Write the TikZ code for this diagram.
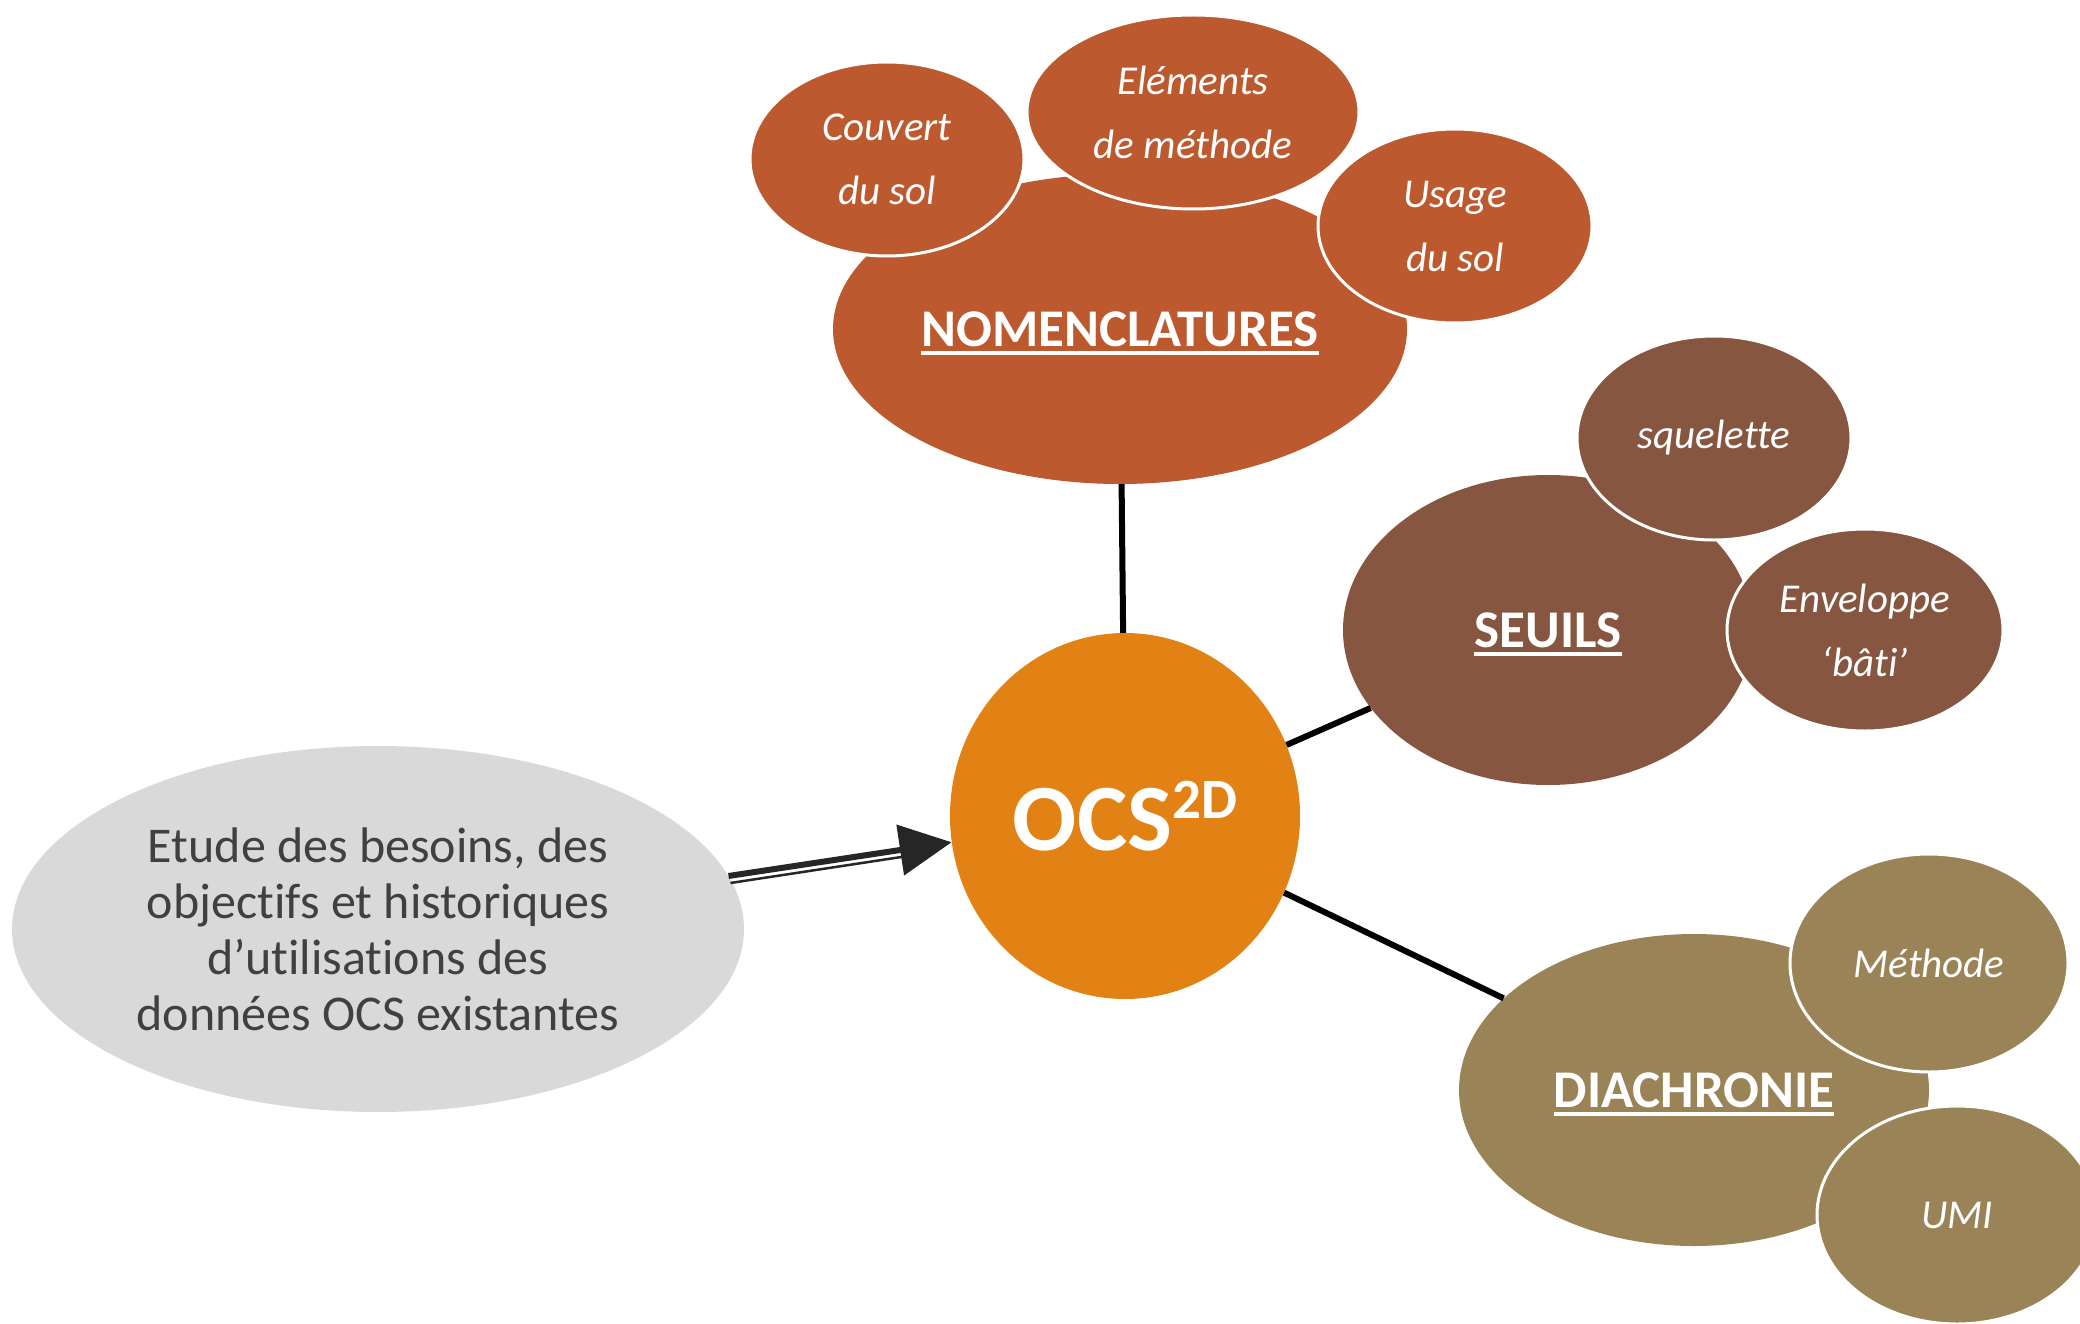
\documentclass[tikz,border=0pt]{standalone}
\usepackage{fontspec}
\setmainfont[Ligatures=NoCommon]{Carlito}
\usetikzlibrary{shapes.geometric,arrows.meta,calc}
\definecolor{nomc}{HTML}{BD592E}
\definecolor{seuc}{HTML}{865641}
\definecolor{diac}{HTML}{9B8358}
\definecolor{ocsc}{HTML}{E38214}
\definecolor{greyc}{HTML}{D9D9D9}
\definecolor{textg}{HTML}{404040}
\definecolor{arrc}{HTML}{262626}
\newcommand\myul[1]{\leavevmode\setbox0=\hbox{#1}\rlap{\smash{\rule[-9pt]{\wd0}{4pt}}}\box0}
\begin{document}
\begin{tikzpicture}[x=1pt,y=-1pt,
  bub/.style={ellipse,inner sep=0pt,align=center,text=white},
  big/.style={bub,font=\fontsize{53}{60}\selectfont\bfseries},
  small/.style={bub,draw=white,line width=3pt,font=\fontsize{41}{64}\selectfont\itshape},
  link/.style={line width=6pt,black}]
\clip (0,0) rectangle (2080,1324);
% grey source
\node[bub, fill=greyc, text=textg, minimum width=732pt, minimum height=366pt,
  font=\fontsize{50}{56}\selectfont] (etude) at (378,929)
  {Etude des besoins, des\\objectifs et historiques\\d’utilisations des\\données OCS existantes};
% centre
\node[bub, fill=ocsc, minimum width=350pt, minimum height=366pt,
  font=\fontsize{95}{100}\selectfont\bfseries] (ocs) at (1125,816)
  {OCS\raisebox{32pt}{\fontsize{57}{60}\selectfont 2D}};
% big ellipses
\node[big, fill=nomc, minimum width=574pt, minimum height=310pt] (nom) at (1120,329) {\myul{NOMENCLATURES}};
\node[big, fill=seuc, minimum width=410pt, minimum height=310pt] (seu) at (1548,630) {\myul{SEUILS}};
\node[big, fill=diac, minimum width=470pt, minimum height=312pt] (dia) at (1694,1090) {\myul{DIACHRONIE}};
% small ellipses
\node[small, fill=nomc, minimum width=274pt, minimum height=194pt] (cou) at (887,159) {Couvert\\du sol};
\node[small, fill=nomc, minimum width=332pt, minimum height=194pt] (ele) at (1193,112) {Eléments\\de méthode};
\node[small, fill=nomc, minimum width=274pt, minimum height=194pt] (usa) at (1455,226) {Usage\\du sol};
\node[small, fill=seuc, minimum width=274pt, minimum height=204pt] (squ) at (1714,438) {squelette};
\node[small, fill=seuc, minimum width=276pt, minimum height=202pt] (env) at (1865,630) {Enveloppe\\‘bâti’};
\node[small, fill=diac, minimum width=278pt, minimum height=218pt] (met) at (1929,963) {Méthode};
\node[small, fill=diac, minimum width=280pt, minimum height=218pt] (umi) at (1957,1215) {UMI};
% connectors
\draw[link] (nom) -- (ocs);
\draw[link] (ocs) -- (seu);
\draw[link] (ocs) -- (dia);
% double arrow
\path (etude) -- coordinate[pos=0] (as) coordinate[pos=1] (ae) (ocs);
\draw[line width=6pt, arrc, -{Triangle[length=52pt,width=50pt]}] (as) -- (ae);
\draw[line width=2.5pt, arrc] ($(as)+(2,7)$) -- ($(as)!0.78!(ae)+(1,7)$);
\end{tikzpicture}
\end{document}
